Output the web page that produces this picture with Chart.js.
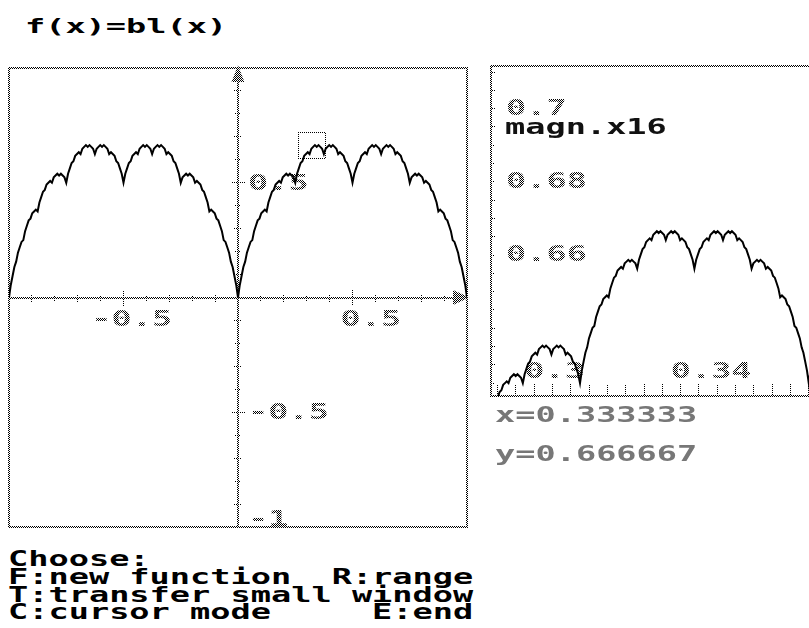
<!DOCTYPE html>
<html>
<head>
<meta charset="utf-8">
<script src="https://cdn.jsdelivr.net/npm/chart.js@4.4.1/dist/chart.umd.min.js"></script>
<style>
html,body{margin:0;padding:0;background:#fff;width:809px;height:628px;overflow:hidden;}
.t{position:absolute;font-family:"DejaVu Sans Mono",monospace;font-weight:bold;white-space:pre;transform-origin:0 0;margin:0;color:#000;}
.g{color:#777;}
#wrapMain{position:absolute;left:0;top:58px;width:478px;height:478px;}
#wrapZoom{position:absolute;left:480px;top:56px;width:345px;height:350px;}
canvas{display:block;}
</style>
</head>
<body>
<div class="t" id="title" style="left:25px;top:16.1px;font-size:20px;line-height:20px;transform:scaleX(1.678);">f(x)=bl(x)</div>
<div id="wrapMain"><canvas id="cMain" width="478" height="478" style="width:478px;height:478px;"></canvas></div>
<div id="wrapZoom"><canvas id="cZoom" width="345" height="350" style="width:345px;height:350px;"></canvas></div>
<div class="t g" id="readX" style="left:495px;top:407.2px;font-size:21px;line-height:17.6px;transform:scaleX(1.6);"></div>
<div class="t g" id="readY" style="left:495px;top:446.4px;font-size:21px;line-height:17.6px;transform:scaleX(1.6);"></div>
<div class="t" id="menu" style="left:7.5px;top:551.4px;font-size:21px;line-height:17.6px;transform:scaleX(1.6);">Choose:
F:new function  R:range
T:transfer small window
C:cursor mode     E:end</div>
<script>
// ---------------- data ----------------
// main window: f(x)=bl(x) sampled every 1/128 on [-1,0] and [0,1]
const mainStep = 1 / 128;
const leftHalfY = [
0, 0.0547, 0.0938, 0.1328, 0.1563, 0.1953, 0.2188, 0.2422, 0.25, 0.2891,
0.3125, 0.3359, 0.3438, 0.3672, 0.375, 0.3828, 0.375, 0.4141, 0.4375, 0.4609,
0.4688, 0.4922, 0.5, 0.5078, 0.5, 0.5234, 0.5313, 0.5391, 0.5313, 0.5391,
0.5313, 0.5234, 0.5, 0.5391, 0.5625, 0.5859, 0.5938, 0.6172, 0.625, 0.6328,
0.625, 0.6484, 0.6563, 0.6641, 0.6563, 0.6641, 0.6563, 0.6484, 0.625, 0.6484,
0.6563, 0.6641, 0.6563, 0.6641, 0.6563, 0.6484, 0.625, 0.6328, 0.625, 0.6172,
0.5938, 0.5859, 0.5625, 0.5391, 0.5,
0.5391, 0.5625, 0.5859, 0.5938, 0.6172, 0.625, 0.6328, 0.625, 0.6484, 0.6563,
0.6641, 0.6563, 0.6641, 0.6563, 0.6484, 0.625, 0.6484, 0.6563, 0.6641, 0.6563,
0.6641, 0.6563, 0.6484, 0.625, 0.6328, 0.625, 0.6172, 0.5938, 0.5859, 0.5625,
0.5391, 0.5, 0.5234, 0.5313, 0.5391, 0.5313, 0.5391, 0.5313, 0.5234, 0.5,
0.5078, 0.5, 0.4922, 0.4688, 0.4609, 0.4375, 0.4141, 0.375, 0.3828, 0.375,
0.3672, 0.3438, 0.3359, 0.3125, 0.2891, 0.25, 0.2422, 0.2188, 0.1953, 0.1563,
0.1328, 0.0938, 0.0547, 0
];
const rightHalfY = [
0, 0.0547, 0.0938, 0.1328, 0.1563, 0.1953, 0.2188, 0.2422, 0.25, 0.2891,
0.3125, 0.3359, 0.3438, 0.3672, 0.375, 0.3828, 0.375, 0.4141, 0.4375, 0.4609,
0.4688, 0.4922, 0.5, 0.5078, 0.5, 0.5234, 0.5313, 0.5391, 0.5313, 0.5391,
0.5313, 0.5234, 0.5, 0.5391, 0.5625, 0.5859, 0.5938, 0.6172, 0.625, 0.6328,
0.625, 0.6484, 0.6563, 0.6641, 0.6563, 0.6641, 0.6563, 0.6484, 0.625, 0.6484,
0.6563, 0.6641, 0.6563, 0.6641, 0.6563, 0.6484, 0.625, 0.6328, 0.625, 0.6172,
0.5938, 0.5859, 0.5625, 0.5391, 0.5,
0.5391, 0.5625, 0.5859, 0.5938, 0.6172, 0.625, 0.6328, 0.625, 0.6484, 0.6563,
0.6641, 0.6563, 0.6641, 0.6563, 0.6484, 0.625, 0.6484, 0.6563, 0.6641, 0.6563,
0.6641, 0.6563, 0.6484, 0.625, 0.6328, 0.625, 0.6172, 0.5938, 0.5859, 0.5625,
0.5391, 0.5, 0.5234, 0.5313, 0.5391, 0.5313, 0.5391, 0.5313, 0.5234, 0.5,
0.5078, 0.5, 0.4922, 0.4688, 0.4609, 0.4375, 0.4141, 0.375, 0.3828, 0.375,
0.3672, 0.3438, 0.3359, 0.3125, 0.2891, 0.25, 0.2422, 0.2188, 0.1953, 0.1563,
0.1328, 0.0938, 0.0547, 0
];
// magnified window (x16): samples every 1/2048 starting at x = 294/1024
const zoomXStart = 0.287109375;
const zoomStep = 1 / 2048;
const zoomY = [
0.61523, 0.61670, 0.61719, 0.61768, 0.61719, 0.61963, 0.62109, 0.62256, 0.62305, 0.62451,
0.625, 0.62549, 0.625, 0.62646, 0.62695, 0.62744, 0.62695, 0.62744, 0.62695, 0.62646,
0.625, 0.62744, 0.62891, 0.63037, 0.63086, 0.63232, 0.63281, 0.63330, 0.63281, 0.63428,
0.63477, 0.63525, 0.63477, 0.63525, 0.63477, 0.63428, 0.63281, 0.63428, 0.63477, 0.63525,
0.63477, 0.63525, 0.63477, 0.63428, 0.63281, 0.63330, 0.63281, 0.63232, 0.63086, 0.63037,
0.62891, 0.62744, 0.625, 0.62842, 0.63086, 0.63330, 0.63477, 0.63721, 0.63867, 0.64014,
0.64063, 0.64307, 0.64453, 0.64600, 0.64648, 0.64795, 0.64844, 0.64893, 0.64844, 0.65088,
0.65234, 0.65381, 0.65430, 0.65576, 0.65625, 0.65674, 0.65625, 0.65771, 0.65820, 0.65869,
0.65820, 0.65869, 0.65820, 0.65771, 0.65625, 0.65869, 0.66016, 0.66162, 0.66211, 0.66357,
0.66406, 0.66455, 0.66406, 0.66553, 0.66602, 0.66650, 0.66602, 0.66650, 0.66602, 0.66553,
0.66406, 0.66553, 0.66602, 0.66650, 0.66602, 0.66650, 0.66602, 0.66553, 0.66406, 0.66455,
0.66406, 0.66357, 0.66211, 0.66162, 0.66016, 0.65869, 0.65625, 0.65869, 0.66016, 0.66162,
0.66211, 0.66357, 0.66406, 0.66455, 0.66406, 0.66553, 0.66602, 0.66650, 0.66602, 0.66650,
0.66602, 0.66553, 0.66406, 0.66553, 0.66602, 0.66650, 0.66602, 0.66650, 0.66602, 0.66553,
0.66406, 0.66455, 0.66406, 0.66357, 0.66211, 0.66162, 0.66016, 0.65869, 0.65625, 0.65771,
0.65820, 0.65869, 0.65820, 0.65869, 0.65820, 0.65771, 0.65625, 0.65674, 0.65625, 0.65576,
0.65430, 0.65381, 0.65234, 0.65088, 0.64844, 0.64893, 0.64844, 0.64795, 0.64648, 0.64600,
0.64453, 0.64307, 0.64063, 0.64014, 0.63867, 0.63721, 0.63477, 0.63330, 0.63086, 0.62842,
0.625, 0.62842, 0.63086, 0.63330, 0.63477, 0.63721, 0.63867, 0.64014, 0.64063
];
// tick labels
const mainXTickValues = [-0.5, 0.5];
const mainXTickLabels = ['-0.5', '0.5'];
const mainYTickValues = [0.5, -0.5, -1];
const mainYTickLabels = ['0.5', '-0.5', '-1'];
const zoomXTickValues = [0.30, 0.34];
const zoomXTickLabels = ['0.3', '0.34'];
const zoomYTickValues = [0.70, 0.68, 0.66];
const zoomYTickLabels = ['0.7', '0.68', '0.66'];
// magnified window shown in the main plot, and cursor readout
const windowX = [0.263, 0.380];
const windowY = [0.607, 0.722];
const cursorX = 0.333333;
const cursorY = 0.666667;
const magnText = 'magn.x16';

// ---------------- ranges ----------------
const zoomXMin = 0.28818, zoomXMax = 0.37834;
const zoomYMin = 0.62148, zoomYMax = 0.71164;

document.getElementById('readX').textContent = 'x=' + cursorX.toFixed(6);
document.getElementById('readY').textContent = 'y=' + cursorY.toFixed(6);

// ---------------- styling helpers ----------------
const stip = document.createElement('canvas');
stip.width = 2; stip.height = 2;
const sg = stip.getContext('2d');
sg.fillStyle = '#000';
sg.fillRect(0, 0, 1, 1);
sg.fillRect(1, 1, 1, 1);
const stipple = sg.createPattern(stip, 'repeat');

const SX = 1.6;
const CELL = 20.2;
const FONT = 'bold 21px "DejaVu Sans Mono"';

function drawText(ctx, txt, x, b, mode) {
  ctx.save();
  ctx.font = FONT;
  ctx.textAlign = 'left';
  ctx.textBaseline = 'alphabetic';
  ctx.translate(x, b);
  ctx.scale(SX, 1);
  if (mode === 'grey') {
    const p = ctx.createPattern(stip, 'repeat');
    p.setTransform(new DOMMatrix([1 / SX, 0, 0, 1, -x / SX, -b]));
    ctx.fillStyle = p;
  } else {
    ctx.fillStyle = mode;
  }
  ctx.fillText(txt, 0, 0);
  ctx.restore();
}

function tickScale(axis, min, max, pos, step, len, showBorder) {
  return {
    type: 'linear', axis: axis, min: min, max: max, position: pos,
    border: { display: showBorder, color: stipple, width: 2 },
    grid: { display: true, drawOnChartArea: false, drawTicks: true, tickLength: len, tickColor: stipple, tickWidth: 1 },
    ticks: { display: false, stepSize: step, autoSkip: false, includeBounds: false }
  };
}

// ---------------- main chart ----------------
const mainDecor = {
  id: 'mainDecor',
  beforeDatasetsDraw(chart) {
    const { ctx, chartArea: a, scales } = chart;
    const x = scales.x, y = scales.y;
    ctx.save();
    ctx.strokeStyle = stipple;
    ctx.lineWidth = 2;
    ctx.strokeRect(a.left, a.top, a.right - a.left, a.bottom - a.top);
    const x0 = x.getPixelForValue(0), y0 = y.getPixelForValue(0);
    // arrow heads
    ctx.fillStyle = stipple;
    const topY = y.getPixelForValue(1), rightX = x.getPixelForValue(1);
    ctx.beginPath(); ctx.moveTo(x0, topY); ctx.lineTo(x0 - 5, topY + 13); ctx.lineTo(x0 + 5, topY + 13); ctx.closePath(); ctx.fill(); ctx.stroke();
    ctx.beginPath(); ctx.moveTo(rightX, y0); ctx.lineTo(rightX - 13, y0 - 6); ctx.lineTo(rightX - 13, y0 + 6); ctx.closePath(); ctx.fill(); ctx.stroke();
    ctx.restore();
    mainXTickValues.forEach((v, i) => {
      const t = mainXTickLabels[i];
      const px = x.getPixelForValue(v) - 12 - (t[0] === '-' ? CELL : 0);
      drawText(ctx, t, px, y0 + 28, 'grey');
    });
    mainYTickValues.forEach((v, i) => {
      const b = Math.min(y.getPixelForValue(v) + 7, a.bottom - 1);
      drawText(ctx, mainYTickLabels[i], x0 + 10, b, 'grey');
    });
  },
  afterDatasetsDraw(chart) {
    const { ctx, scales } = chart;
    const x = scales.x, y = scales.y;
    const l = Math.round(x.getPixelForValue(windowX[0])) + 0.5;
    const r = Math.round(x.getPixelForValue(windowX[1])) + 0.5;
    const t = Math.round(y.getPixelForValue(windowY[1])) + 0.5;
    const b = Math.round(y.getPixelForValue(windowY[0])) + 0.5;
    ctx.save();
    ctx.strokeStyle = stipple;
    ctx.lineWidth = 1;
    ctx.strokeRect(l, t, r - l, b - t);
    ctx.restore();
  }
};

const mainLeft = leftHalfY.map((v, i) => ({ x: -1 + i * mainStep, y: v }));
const mainRight = rightHalfY.map((v, i) => ({ x: i * mainStep, y: v }));

const lineStyle = { showLine: true, borderColor: '#000', backgroundColor: '#000', borderWidth: 2, pointRadius: 0, tension: 0, fill: false };

new Chart(document.getElementById('cMain'), {
  type: 'scatter',
  data: { datasets: [
    Object.assign({ data: mainLeft }, lineStyle),
    Object.assign({ data: mainRight }, lineStyle)
  ] },
  options: {
    responsive: false, animation: false, events: [],
    layout: { padding: { left: 9, top: 10, right: 11, bottom: 9 } },
    plugins: { legend: { display: false }, tooltip: { enabled: false }, title: { display: false } },
    scales: {
      x: tickScale('x', -1, 1, { y: 0 }, 0.1, 3, true),
      x2: tickScale('x', -1, 1, { y: 0 }, 0.1, -3, false),
      x3: tickScale('x', -1, 1, { y: 0 }, 0.5, 8, false),
      x4: tickScale('x', -1, 1, { y: 0 }, 0.5, -8, false),
      y: tickScale('y', -1, 1, { x: 0 }, 0.1, 3, true),
      y2: tickScale('y', -1, 1, { x: 0 }, 0.1, -3, false),
      y3: tickScale('y', -1, 1, { x: 0 }, 0.5, 7, false),
      y4: tickScale('y', -1, 1, { x: 0 }, 0.5, -7, false)
    }
  },
  plugins: [mainDecor]
});

// ---------------- magnified chart ----------------
const zoomDecor = {
  id: 'zoomDecor',
  beforeDatasetsDraw(chart) {
    const { ctx, chartArea: a, scales } = chart;
    const x = scales.x, y = scales.y;
    ctx.save();
    ctx.strokeStyle = stipple;
    ctx.lineWidth = 2;
    ctx.strokeRect(a.left, a.top, a.right - a.left, a.bottom - a.top);
    ctx.restore();
    zoomYTickValues.forEach((v, i) => {
      drawText(ctx, zoomYTickLabels[i], a.left + 15, y.getPixelForValue(v) + 6, 'grey');
    });
    zoomXTickValues.forEach((v, i) => {
      drawText(ctx, zoomXTickLabels[i], x.getPixelForValue(v) - 10, a.bottom - 18, 'grey');
    });
    drawText(ctx, magnText, a.left + 14, a.top + 68, '#111');
  }
};

const zoomData = zoomY.map((v, i) => ({ x: zoomXStart + i * zoomStep, y: v }));

new Chart(document.getElementById('cZoom'), {
  type: 'scatter',
  data: { datasets: [ Object.assign({ data: zoomData }, lineStyle) ] },
  options: {
    responsive: false, animation: false, events: [],
    layout: { padding: { left: 11, top: 10, right: 4, bottom: 10 } },
    plugins: { legend: { display: false }, tooltip: { enabled: false }, title: { display: false } },
    scales: {
      x: tickScale('x', zoomXMin, zoomXMax, { y: zoomYMin }, 0.005, -12, false),
      y: tickScale('y', zoomYMin, zoomYMax, { x: zoomXMin }, 0.005, -4, false)
    }
  },
  plugins: [zoomDecor]
});
</script>
</body>
</html>
